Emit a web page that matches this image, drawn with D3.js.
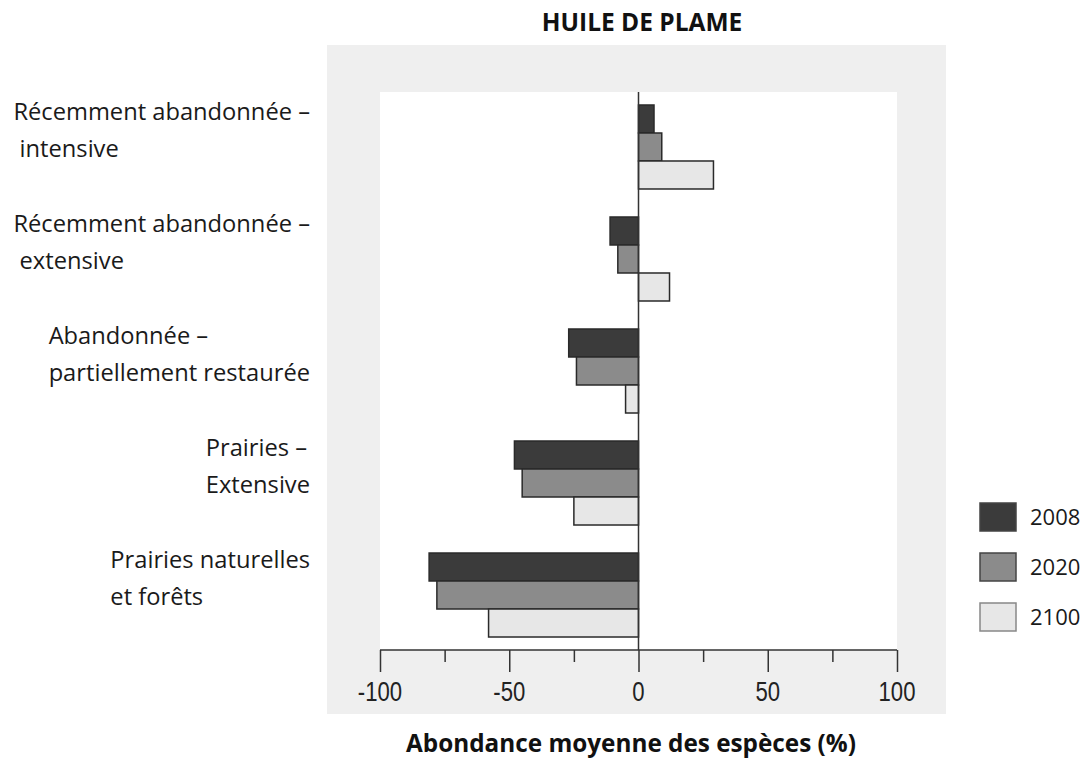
<!DOCTYPE html>
<html>
<head>
<meta charset="utf-8">
<script src="https://cdn.jsdelivr.net/npm/d3@7"></script>
<style>
  body { margin: 0; background: #fff; }
  svg { display: block; }
</style>
</head>
<body>
<div id="chart"></div>
<script>
"use strict";

// categories, top to bottom (each split into its two lines)
var categories = [
    "Récemment abandonnée – intensive",
    "Récemment abandonnée – extensive",
    "Abandonnée – partiellement restaurée",
    "Prairies – Extensive",
    "Prairies naturelles et forêts"
];
var categoryLines = [
    ["Récemment abandonnée –", " intensive"],
    ["Récemment abandonnée –", " extensive"],
    ["Abandonnée –", "partiellement restaurée"],
    ["Prairies –", "Extensive"],
    ["Prairies naturelles", "et forêts"]
];
var years = ["2008", "2020", "2100"];
var values2008 = [6, -11, -27, -48, -81];
var values2020 = [9, -8, -24, -45, -78];
var values2100 = [29, 12, -5, -25, -58];
var xTicks = [-100, -50, 0, 50, 100];

var colors = {"2008": "#3b3b3b", "2020": "#8b8b8b", "2100": "#e7e7e7"};

var W = 1089, H = 762;
var plot = {left: 380, right: 897, top: 92, bottom: 650};

var svg = d3.select("#chart").append("svg")
    .attr("width", W)
    .attr("height", H);

// grey panel behind the plot
svg.append("rect")
    .attr("x", 327).attr("y", 45)
    .attr("width", 619).attr("height", 669)
    .attr("fill", "#efefef");
svg.append("rect")
    .attr("x", plot.left).attr("y", plot.top)
    .attr("width", plot.right - plot.left)
    .attr("height", plot.bottom - plot.top)
    .attr("fill", "#ffffff");

var xScale = d3.scaleLinear()
    .domain([-100, 100])
    .range([plot.left, plot.right]);

var yScale = d3.scaleBand()
    .domain(categories)
    .range([plot.top, plot.bottom])
    .paddingInner(0.25)
    .paddingOuter(0.116);

var ySub = d3.scaleBand()
    .domain(years)
    .range([0, yScale.bandwidth()]);

var rows = categories.map(function(c, i) {
    return {cat: c, vals: [
        {year: "2008", v: values2008[i]},
        {year: "2020", v: values2020[i]},
        {year: "2100", v: values2100[i]}
    ]};
});

// bars
var groups = svg.append("g").selectAll("g")
    .data(rows)
    .enter().append("g")
    .attr("transform", function(d) { return "translate(0," + yScale(d.cat) + ")"; });

groups.selectAll("rect")
    .data(function(d) { return d.vals; })
    .enter().append("rect")
    .attr("x", function(d) { return xScale(Math.min(0, d.v)); })
    .attr("y", function(d) { return ySub(d.year); })
    .attr("width", function(d) { return Math.abs(xScale(d.v) - xScale(0)); })
    .attr("height", ySub.bandwidth())
    .attr("fill", function(d) { return colors[d.year]; })
    .attr("stroke", "#2a2a2a")
    .attr("stroke-width", 1.5);

// zero line
svg.append("line")
    .attr("x1", xScale(0)).attr("x2", xScale(0))
    .attr("y1", plot.top).attr("y2", plot.bottom)
    .attr("stroke", "#333")
    .attr("stroke-width", 1.5);

// x axis: major ticks labelled, minor ticks in between
var axisG = svg.append("g")
    .attr("transform", "translate(0," + plot.bottom + ")");
axisG.call(d3.axisBottom(xScale)
    .tickValues(d3.range(-100, 101, 25))
    .tickSize(12)
    .tickFormat(""));
axisG.selectAll(".tick line")
    .attr("y2", function(d) { return d % 50 === 0 ? 22 : 12; });
axisG.selectAll("path, line")
    .attr("stroke", "#333")
    .attr("stroke-width", 1.5);
axisG.select(".domain").attr("d", "M" + plot.left + ",0H" + plot.right);

// condensed look for the tick numbers
axisG.selectAll(".lbl")
    .data(xTicks)
    .enter().append("text")
    .attr("class", "lbl")
    .attr("transform", function(d) { return "translate(" + xScale(d) + ",51) scale(0.82,1)"; })
    .attr("text-anchor", "middle")
    .style("font-family", "'Liberation Sans', Arial, sans-serif")
    .style("font-size", "27px")
    .attr("fill", "#222")
    .text(function(d) { return d; });

// category labels, left-aligned block with right edge at 310
var labelFont = "'Open Sans', Lato, sans-serif";
var labels = svg.append("g").selectAll("g")
    .data(rows)
    .enter().append("g");

labels.each(function(d, i) {
    var g = d3.select(this);
    var top = yScale(d.cat);
    var texts = g.selectAll("text")
        .data(categoryLines[i])
        .enter().append("text")
        .attr("y", function(t, j) { return top + 15 + j * 37; })
        .style("font-family", labelFont)
        .style("font-size", "23.7px")
        .style("white-space", "pre")
        .attr("fill", "#1a1a1a")
        .text(function(t) { return t; });
    var maxW = 0;
    texts.each(function() { maxW = Math.max(maxW, this.getComputedTextLength()); });
    texts.attr("x", 310 - maxW);
});

// title and axis title
svg.append("text")
    .attr("x", 642).attr("y", 31)
    .attr("text-anchor", "middle")
    .style("font-family", labelFont)
    .style("font-weight", "bold")
    .style("font-size", "24.5px")
    .attr("fill", "#111")
    .text("HUILE DE PLAME");

svg.append("text")
    .attr("x", 631).attr("y", 752)
    .attr("text-anchor", "middle")
    .style("font-family", labelFont)
    .style("font-weight", "bold")
    .style("font-size", "24.3px")
    .attr("fill", "#111")
    .text("Abondance moyenne des espèces (%)");

// legend
var legend = svg.append("g").selectAll("g")
    .data(years)
    .enter().append("g")
    .attr("transform", function(d, i) { return "translate(980," + (503 + i * 50) + ")"; });
legend.append("rect")
    .attr("width", 36).attr("height", 28)
    .attr("fill", function(d) { return colors[d]; })
    .attr("stroke", function(d) { return d === "2100" ? "#888" : "#444"; })
    .attr("stroke-width", 1.5);
legend.append("text")
    .attr("x", 50).attr("y", 22)
    .style("font-family", labelFont)
    .style("font-size", "22px")
    .attr("fill", "#1a1a1a")
    .text(function(d) { return d; });
</script>
</body>
</html>
